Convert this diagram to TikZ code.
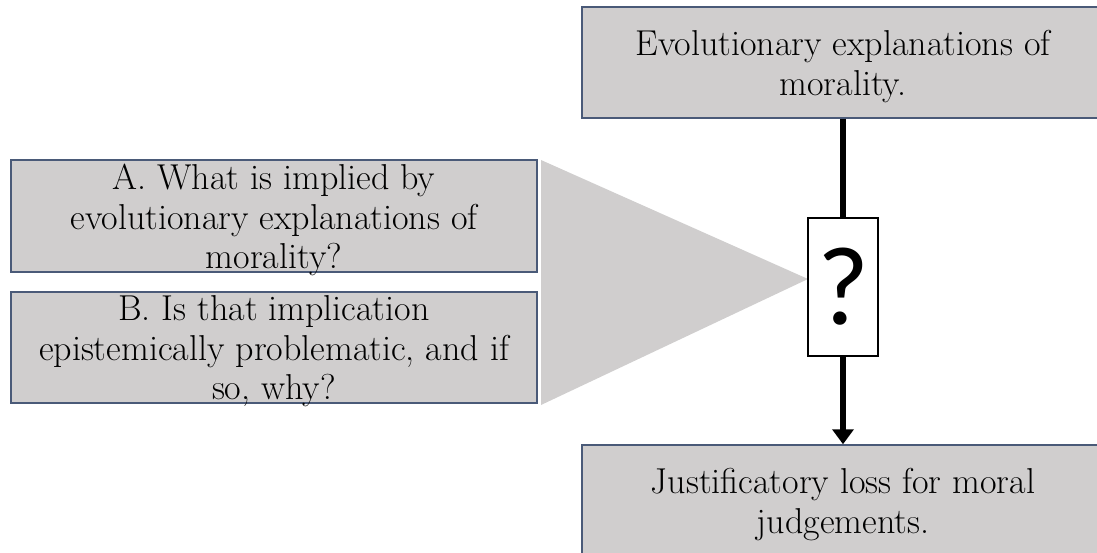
\documentclass[tikz,border=0pt]{standalone}
\usepackage{fontspec}
\newfontfamily\qfont{Carlito}
\usetikzlibrary{arrows.meta}
\definecolor{boxfill}{HTML}{D0CECE}
\definecolor{boxline}{HTML}{4A5A78}
\tikzset{
  gbox/.style={draw=boxline, line width=1.5pt, fill=boxfill, inner sep=0pt},
  gtext/.style={align=center, inner sep=0pt, yshift=-4pt, font=\fontsize{36}{39.5}\selectfont},
  qbox/.style={draw=black, line width=1.3pt, fill=white, inner sep=0pt,
    minimum width=70pt, minimum height=138pt, font=\qfont\fontsize{112}{112}\selectfont},
  thick line/.style={line width=5.5pt, black}
}
\begin{document}
\begin{tikzpicture}[x=1pt,y=-1pt]
\useasboundingbox (0,0) rectangle (1097,553);
% funnel
\fill[boxfill] (541,160) -- (808,279) -- (541,405) -- cycle;
\node[gbox, minimum width=522pt, minimum height=111pt,
  label={[gtext]center:Evolutionary explanations of\\morality.}] (top) at (843,62.5) {};
\node[gbox, minimum width=522pt, minimum height=111pt,
  label={[gtext]center:Justificatory loss for moral\\judgements.}] (bot) at (843,500.5) {};
\node[gbox, minimum width=526pt, minimum height=112pt,
  label={[gtext]center:A. What is implied by\\evolutionary explanations of\\morality?}] (a) at (274,216) {};
\node[gbox, minimum width=526pt, minimum height=111pt,
  label={[gtext]center:B. Is that implication\\epistemically problematic, and if\\so, why?}] (b) at (274,347.5) {};
\node[qbox] (q) at (843,287) {?};
\draw[thick line] (top.south) -- (q.north);
\draw[thick line, -{Triangle[width=21pt,length=15pt]}] (q.south) -- (bot.north);
\end{tikzpicture}
\end{document}
